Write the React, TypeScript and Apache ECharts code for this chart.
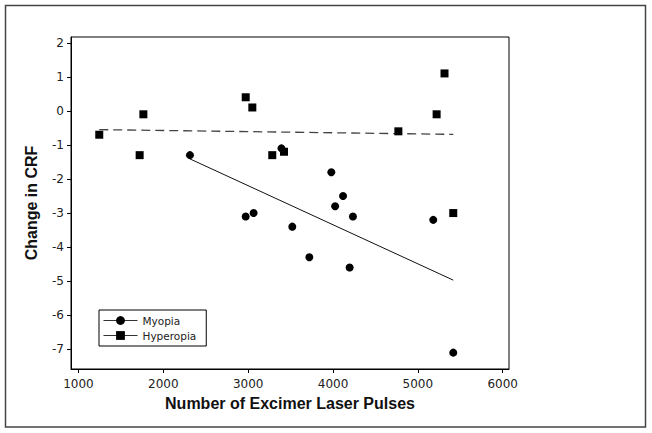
import React, { useEffect, useRef } from "react";
import * as echarts from "echarts";

// Myopia group (circles)
const myopiaX = [2314, 2971, 3064, 3392, 3520, 3721, 3980, 4025, 4118, 4235, 4196, 5181, 5417];
const myopiaY = [-1.3, -3.1, -3.0, -1.1, -3.4, -4.3, -1.8, -2.8, -2.5, -3.1, -4.6, -3.2, -7.1];

// Hyperopia group (squares)
const hyperX = [1245, 1721, 1765, 2971, 3049, 3284, 3422, 4770, 5221, 5314, 5417];
const hyperY = [-0.7, -1.3, -0.1, 0.4, 0.1, -1.3, -1.2, -0.6, -0.1, 1.1, -3.0];

// Fitted regression lines (end points)
const myopiaFitX = [2314, 5417];
const myopiaFitY = [-1.41, -4.97];
const hyperFitX = [1245, 5417];
const hyperFitY = [-0.55, -0.69];

// Tick values
const xTicks = [1000, 2000, 3000, 4000, 5000, 6000];
const yTicks = [-7, -6, -5, -4, -3, -2, -1, 0, 1, 2];

const zip = (xs: number[], ys: number[]) => xs.map((x, i) => [x, ys[i]]);

export default function App() {
  const ref = useRef<HTMLDivElement>(null);

  useEffect(() => {
    if (!ref.current) return;
    const chart = echarts.init(ref.current, null, { renderer: "svg" });
    const labelFont = { fontFamily: "DejaVu Sans", fontSize: 12, color: "#222" };
    const titleFont = {
      fontFamily: "Liberation Sans",
      fontSize: 16,
      fontWeight: "bold" as const,
      color: "#111",
    };
    chart.setOption({
      animation: false,
      backgroundColor: "#fff",
      grid: {
        left: 71,
        top: 37,
        width: 438,
        height: 332,
        show: true,
        borderColor: "#000",
        borderWidth: 1,
        containLabel: false,
      },
      graphic: [
        {
          type: "rect",
          shape: { x: 5.5, y: 5.5, width: 640, height: 421.5 },
          style: { fill: "none", stroke: "#444", lineWidth: 1.5 },
          silent: true,
        },
      ],
      legend: {
        data: ["Myopia", "Hyperopia"],
        orient: "vertical",
        left: 99,
        top: 310,
        itemWidth: 34,
        itemHeight: 11,
        itemGap: 4,
        padding: [5, 10, 5, 4],
        borderColor: "#000",
        borderWidth: 1,
        textStyle: { fontFamily: "DejaVu Sans", fontSize: 10.5, color: "#222" },
        lineStyle: { width: 1, color: "#333", opacity: 1 },
        selectedMode: false,
      },
      xAxis: {
        type: "value",
        min: 912,
        max: 6074,
        name: "Number of Excimer Laser Pulses",
        nameLocation: "middle",
        nameGap: 26,
        nameTextStyle: titleFont,
        axisLine: { onZero: false, lineStyle: { color: "#000", width: 1 } },
        axisTick: { show: true, length: 4, customValues: xTicks, lineStyle: { color: "#000" } },
        axisLabel: {
          customValues: xTicks,
          margin: 9,
          formatter: (v: number) => String(v),
          ...labelFont,
        },
        splitLine: { show: false },
      },
      yAxis: {
        type: "value",
        min: -7.58,
        max: 2.17,
        name: "Change in CRF",
        nameLocation: "middle",
        nameGap: 32,
        nameRotate: 90,
        nameTextStyle: titleFont,
        axisLine: { show: true, onZero: false, lineStyle: { color: "#000", width: 1 } },
        axisTick: { show: true, length: 4, customValues: yTicks, lineStyle: { color: "#000" } },
        axisLabel: {
          customValues: yTicks,
          margin: 7,
          formatter: (v: number) => String(v),
          ...labelFont,
        },
        splitLine: { show: false },
      },
      series: [
        {
          name: "MyopiaFit",
          type: "line",
          data: zip(myopiaFitX, myopiaFitY),
          symbol: "none",
          lineStyle: { color: "#111", width: 1 },
          silent: true,
          z: 1,
        },
        {
          name: "HyperopiaFit",
          type: "line",
          data: zip(hyperFitX, hyperFitY),
          symbol: "none",
          lineStyle: { color: "#444", width: 1.3, type: [9, 5] },
          silent: true,
          z: 1,
        },
        {
          name: "Myopia",
          type: "line",
          data: zip(myopiaX, myopiaY),
          symbol: "circle",
          symbolSize: 8,
          showAllSymbol: true,
          itemStyle: { color: "#000" },
          lineStyle: { color: "#333", width: 1, opacity: 0 },
          silent: true,
          z: 3,
        },
        {
          name: "Hyperopia",
          type: "line",
          data: zip(hyperX, hyperY),
          symbol: "rect",
          symbolSize: 8,
          showAllSymbol: true,
          itemStyle: { color: "#000" },
          lineStyle: { color: "#333", width: 1, opacity: 0 },
          silent: true,
          z: 3,
        },
      ],
    });
    return () => chart.dispose();
  }, []);

  return (
    <div
      ref={ref}
      style={{ position: "absolute", left: 0, top: 0, width: 652, height: 433 }}
    />
  );
}
